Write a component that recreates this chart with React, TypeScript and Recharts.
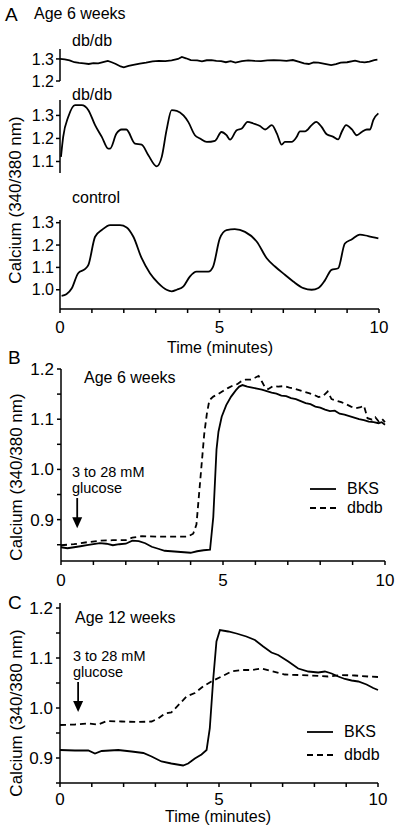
import React from 'react';
import { LineChart, Line, XAxis, YAxis, ReferenceLine } from 'recharts';

const FONT = '"Liberation Sans", Arial, Helvetica, sans-serif';

// ---------- Panel A (age 6 weeks, single islets) ----------
const a1Time = [0, 0.15, 0.3, 0.45, 0.6, 0.75, 0.9, 1.05, 1.2, 1.35, 1.5, 1.62, 1.75, 1.9, 2.0, 2.15, 2.3, 2.5, 2.7, 2.9, 3.1, 3.3, 3.5, 3.7, 3.82, 3.95, 4.1, 4.3, 4.45, 4.6, 4.75, 4.9, 5.05, 5.2, 5.35, 5.5, 5.7, 5.9, 6.1, 6.3, 6.5, 6.7, 6.9, 7.1, 7.3, 7.5, 7.65, 7.8, 7.95, 8.1, 8.3, 8.5, 8.65, 8.8, 9.0, 9.25, 9.4, 9.55, 9.7, 9.85, 9.95];
const a1Ratio = [1.3, 1.298, 1.293, 1.285, 1.282, 1.28, 1.277, 1.281, 1.28, 1.286, 1.291, 1.285, 1.277, 1.266, 1.262, 1.268, 1.273, 1.279, 1.283, 1.289, 1.291, 1.29, 1.293, 1.3, 1.309, 1.303, 1.295, 1.293, 1.289, 1.294, 1.295, 1.291, 1.29, 1.285, 1.29, 1.283, 1.29, 1.293, 1.291, 1.29, 1.293, 1.295, 1.293, 1.291, 1.295, 1.287, 1.28, 1.277, 1.284, 1.283, 1.278, 1.272, 1.276, 1.283, 1.285, 1.292, 1.287, 1.284, 1.288, 1.295, 1.297];

const a2Time = [0.03, 0.1, 0.26, 0.47, 0.68, 0.89, 1.1, 1.31, 1.51, 1.57, 1.77, 1.93, 2.08, 2.35, 2.56, 2.77, 3.03, 3.19, 3.34, 3.5, 3.66, 3.87, 4.02, 4.23, 4.39, 4.6, 4.86, 5.06, 5.22, 5.33, 5.54, 5.7, 5.88, 6.06, 6.27, 6.43, 6.64, 6.8, 6.95, 7.05, 7.26, 7.42, 7.52, 7.68, 7.89, 8.03, 8.2, 8.36, 8.57, 8.72, 8.83, 8.97, 9.15, 9.3, 9.46, 9.62, 9.72, 9.82, 9.98];
const a2Ratio = [1.12, 1.207, 1.294, 1.345, 1.345, 1.323, 1.258, 1.207, 1.156, 1.156, 1.221, 1.239, 1.239, 1.178, 1.173, 1.127, 1.079, 1.12, 1.236, 1.323, 1.32, 1.3, 1.272, 1.214, 1.2, 1.185, 1.19, 1.228, 1.214, 1.195, 1.236, 1.243, 1.272, 1.265, 1.254, 1.239, 1.258, 1.221, 1.173, 1.185, 1.185, 1.207, 1.231, 1.231, 1.258, 1.272, 1.25, 1.218, 1.207, 1.196, 1.228, 1.258, 1.239, 1.214, 1.228, 1.239, 1.239, 1.28, 1.309];

const a3Time = [0.05, 0.2, 0.37, 0.57, 0.78, 0.89, 1.1, 1.31, 1.57, 1.88, 2.09, 2.3, 2.56, 2.82, 3.08, 3.34, 3.5, 3.66, 3.87, 4.07, 4.28, 4.65, 4.8, 5.01, 5.22, 5.48, 5.8, 6.17, 6.48, 6.74, 7.05, 7.31, 7.63, 7.89, 8.1, 8.3, 8.51, 8.72, 8.93, 9.14, 9.4, 9.66, 9.98];
const a3Ratio = [0.973, 0.98, 1.007, 1.074, 1.092, 1.111, 1.237, 1.267, 1.289, 1.289, 1.279, 1.237, 1.141, 1.074, 1.03, 1.0, 0.993, 1.0, 1.015, 1.059, 1.081, 1.081, 1.104, 1.23, 1.267, 1.271, 1.259, 1.215, 1.141, 1.104, 1.067, 1.037, 1.007, 1.0, 1.008, 1.041, 1.089, 1.096, 1.207, 1.225, 1.247, 1.24, 1.23];

// ---------- Panel B (age 6 weeks, 3 -> 28 mM glucose) ----------
const bBksTime = [0, 0.2, 0.4, 0.6, 0.8, 1.0, 1.2, 1.4, 1.6, 1.8, 2.0, 2.2, 2.4, 2.6, 2.8, 3.0, 3.2, 3.4, 3.6, 3.8, 4.0, 4.2, 4.4, 4.6, 4.7, 4.8, 4.86, 4.96, 5.1, 5.25, 5.4, 5.5, 5.6, 5.75, 5.9, 6.05, 6.2, 6.35, 6.5, 6.65, 6.8, 6.95, 7.1, 7.25, 7.4, 7.55, 7.7, 7.85, 8.0, 8.15, 8.3, 8.45, 8.6, 8.75, 8.9, 9.05, 9.2, 9.35, 9.5, 9.65, 9.8, 9.9, 10.0];
const bBksRatio = [0.845, 0.843, 0.845, 0.847, 0.849, 0.851, 0.853, 0.852, 0.849, 0.851, 0.852, 0.858, 0.857, 0.853, 0.846, 0.842, 0.838, 0.837, 0.836, 0.835, 0.834, 0.837, 0.839, 0.84, 0.905, 1.04, 1.075, 1.105, 1.128, 1.145, 1.158, 1.165, 1.168, 1.165, 1.163, 1.161, 1.159, 1.156, 1.153, 1.151, 1.147, 1.146, 1.142, 1.14, 1.136, 1.132, 1.13, 1.125, 1.123, 1.119, 1.116, 1.117, 1.111, 1.109, 1.106, 1.103, 1.1, 1.098, 1.095, 1.094, 1.092, 1.094, 1.089];
const bDbdbTime = [0, 0.4, 0.8, 1.2, 1.6, 2.0, 2.2, 2.5, 3.0, 3.5, 3.9, 4.08, 4.18, 4.26, 4.34, 4.42, 4.5, 4.58, 4.7, 4.85, 5.0, 5.15, 5.3, 5.45, 5.55, 5.7, 5.85, 6.0, 6.1, 6.2, 6.3, 6.4, 6.55, 6.7, 6.9, 7.05, 7.2, 7.35, 7.5, 7.65, 7.8, 7.95, 8.1, 8.23, 8.35, 8.5, 8.65, 8.8, 8.95, 9.1, 9.25, 9.35, 9.46, 9.6, 9.7, 9.8, 9.9, 10.0];
const bDbdbRatio = [0.849, 0.851, 0.855, 0.858, 0.859, 0.859, 0.864, 0.867, 0.866, 0.866, 0.866, 0.872, 0.89, 0.95, 1.01, 1.07, 1.11, 1.138, 1.145, 1.15, 1.156, 1.162, 1.167, 1.17, 1.175, 1.179, 1.179, 1.183, 1.186, 1.175, 1.163, 1.16, 1.166, 1.165, 1.166, 1.163, 1.161, 1.158, 1.155, 1.152, 1.149, 1.144, 1.147, 1.155, 1.14, 1.137, 1.134, 1.13, 1.125, 1.122, 1.124, 1.127, 1.102, 1.099, 1.104, 1.096, 1.101, 1.094];

// ---------- Panel C (age 12 weeks, 3 -> 28 mM glucose) ----------
const cBksTime = [0, 0.47, 0.89, 1.1, 1.31, 1.83, 2.25, 2.62, 2.88, 3.19, 3.5, 3.87, 4.03, 4.24, 4.45, 4.61, 4.71, 4.82, 4.92, 5.03, 5.29, 5.55, 5.86, 6.13, 6.39, 6.65, 6.86, 7.18, 7.49, 7.81, 8.12, 8.33, 8.54, 8.75, 8.96, 9.17, 9.38, 9.64, 9.85, 10.0];
const cBksRatio = [0.916, 0.915, 0.915, 0.909, 0.914, 0.916, 0.913, 0.91, 0.903, 0.893, 0.889, 0.885, 0.889, 0.899, 0.907, 0.916, 0.959, 1.059, 1.133, 1.156, 1.153, 1.149, 1.143, 1.136, 1.123, 1.111, 1.106, 1.093, 1.079, 1.073, 1.071, 1.073, 1.069, 1.063, 1.058, 1.055, 1.053, 1.047, 1.04, 1.036];
const cDbdbTime = [0, 0.47, 0.89, 1.2, 1.47, 1.94, 2.46, 2.88, 3.09, 3.3, 3.5, 3.77, 3.98, 4.24, 4.5, 4.76, 5.08, 5.39, 5.71, 6.03, 6.34, 6.65, 7.07, 7.49, 7.91, 8.43, 8.85, 9.27, 9.69, 10.0];
const cDbdbRatio = [0.966, 0.967, 0.969, 0.967, 0.974, 0.973, 0.972, 0.973, 0.979, 0.989, 0.991, 1.009, 1.023, 1.03, 1.043, 1.053, 1.063, 1.073, 1.076, 1.076, 1.079, 1.074, 1.067, 1.066, 1.065, 1.063, 1.066, 1.065, 1.063, 1.062];

// ---------- ticks ----------
const minuteTicks = [0, 1, 2, 3, 4, 5, 6, 7, 8, 9, 10];
const a1Ticks = [1.2, 1.3];
const a2Ticks = [1.1, 1.2, 1.3];
const a3Ticks = [1.0, 1.1, 1.2, 1.3];
const bTicks = [0.85, 0.9, 0.95, 1.0, 1.05, 1.1, 1.15, 1.2];
const cTicks = [0.85, 0.9, 0.95, 1.0, 1.05, 1.1, 1.15, 1.2];

const zip = (t: number[], v: number[]) => t.map((x, i) => ({ t: x, v: v[i] }));

const a1Data = zip(a1Time, a1Ratio);
const a2Data = zip(a2Time, a2Ratio);
const a3Data = zip(a3Time, a3Ratio);
const bBksData = zip(bBksTime, bBksRatio);
const bDbdbData = zip(bDbdbTime, bDbdbRatio);
const cBksData = zip(cBksTime, cBksRatio);
const cDbdbData = zip(cDbdbTime, cDbdbRatio);

const majorY = (v: number) => (Math.abs(v * 10 - Math.round(v * 10)) < 1e-6 ? v.toFixed(1) : '');
const majorX = (v: number) => (v % 5 === 0 ? String(v) : '');

const axisStyle = { stroke: '#000', strokeWidth: 1.5 };

const arrowShape = (p: any) => {
  const { x1, y1, x2, y2 } = p;
  return (
    <g>
      <line x1={x1} y1={y1} x2={x2} y2={y2 - 9} stroke="#000" strokeWidth={1.8} />
      <polygon points={`${x2 - 5},${y2 - 11} ${x2 + 5},${y2 - 11} ${x2},${y2}`} fill="#000" />
    </g>
  );
};

const Txt = ({ x, y, size = 16, center = false, children }: any) => (
  <div
    style={{
      position: 'absolute',
      left: x,
      top: y,
      transform: center ? 'translate(-50%, -50%)' : 'translate(0, -50%)',
      fontSize: size,
      fontFamily: FONT,
      lineHeight: 1,
      whiteSpace: 'nowrap',
      color: '#000',
    }}
  >
    {children}
  </div>
);

const VTxt = ({ x, y, size = 17, children }: any) => (
  <div
    style={{
      position: 'absolute',
      left: x,
      top: y,
      transform: 'translate(-50%, -50%) rotate(-90deg)',
      fontSize: size,
      fontFamily: FONT,
      lineHeight: 1,
      whiteSpace: 'nowrap',
      color: '#000',
    }}
  >
    {children}
  </div>
);

const LegendRow = ({ x, y, dashed, label }: any) => (
  <>
    <svg style={{ position: 'absolute', left: x, top: y - 3 }} width={26} height={6}>
      <line x1={0} y1={3} x2={26} y2={3} stroke="#000" strokeWidth={1.8} strokeDasharray={dashed ? '6 4' : undefined} />
    </svg>
    <Txt x={x + 37} y={y} size={16}>{label}</Txt>
  </>
);

const Abs = ({ top, children }: any) => (
  <div style={{ position: 'absolute', left: 0, top }}>{children}</div>
);

export default function App() {
  const yTick = (size: number) => ({ fill: '#000', fontSize: size, fontFamily: FONT });
  return (
    <div style={{ position: 'absolute', left: 0, top: 0, width: 400, height: 829, background: '#fff', overflow: 'hidden' }}>
      {/* Panel A top: db/db */}
      <Abs top={40}>
        <LineChart width={400} height={50} margin={{ top: 9, right: 21, bottom: 9, left: 0 }}>
          <XAxis type="number" dataKey="t" domain={[0, 10]} hide />
          <YAxis type="number" width={60} domain={[1.2, 1.345]} allowDataOverflow ticks={a1Ticks} interval={0}
            tickFormatter={majorY} axisLine={axisStyle} tickLine={axisStyle} tickSize={4} tickMargin={2} tick={yTick(16)} />
          <Line data={a1Data} dataKey="v" type="linear" stroke="#000" strokeWidth={1.8} dot={false} isAnimationActive={false} />
        </LineChart>
      </Abs>
      {/* Panel A middle: db/db */}
      <Abs top={92}>
        <LineChart width={400} height={90} margin={{ top: 8, right: 21, bottom: 9, left: 0 }}>
          <XAxis type="number" dataKey="t" domain={[0, 10]} hide />
          <YAxis type="number" width={60} domain={[1.05, 1.367]} allowDataOverflow ticks={a2Ticks} interval={0}
            tickFormatter={majorY} axisLine={axisStyle} tickLine={axisStyle} tickSize={4} tickMargin={2} tick={yTick(16)} />
          <Line data={a2Data} dataKey="v" type="monotone" stroke="#000" strokeWidth={1.8} dot={false} isAnimationActive={false} />
        </LineChart>
      </Abs>
      {/* Panel A bottom: control */}
      <Abs top={212}>
        <LineChart width={400} height={137} margin={{ top: 8, right: 21, bottom: 0, left: 0 }}>
          <XAxis type="number" dataKey="t" domain={[0, 10]} ticks={minuteTicks} interval={0} tickFormatter={majorX}
            axisLine={axisStyle} tickLine={axisStyle} tickSize={4} tickMargin={8} tick={yTick(17)} height={40} />
          <YAxis type="number" width={60} domain={[0.914, 1.312]} allowDataOverflow ticks={a3Ticks} interval={0}
            tickFormatter={majorY} axisLine={axisStyle} tickLine={axisStyle} tickSize={4} tickMargin={2} tick={yTick(16)} />
          <Line data={a3Data} dataKey="v" type="monotone" stroke="#000" strokeWidth={1.8} dot={false} isAnimationActive={false} />
        </LineChart>
      </Abs>
      {/* Panel B */}
      <Abs top={360}>
        <LineChart width={400} height={231} margin={{ top: 9, right: 15, bottom: 0, left: 0 }}>
          <XAxis type="number" dataKey="t" domain={[0, 10]} ticks={minuteTicks} interval={0} tickFormatter={majorX}
            axisLine={axisStyle} tickLine={axisStyle} tickSize={4} tickMargin={9} tick={yTick(17)} height={30} />
          <YAxis type="number" width={61} domain={[0.8176, 1.2]} allowDataOverflow ticks={bTicks} interval={0}
            tickFormatter={majorY} axisLine={axisStyle} tickLine={axisStyle} tickSize={4} tickMargin={3} tick={yTick(17)} />
          <ReferenceLine segment={[{ x: 0.5, y: 0.943 }, { x: 0.5, y: 0.883 }]} shape={arrowShape} ifOverflow="visible" />
          <Line data={bDbdbData} dataKey="v" type="linear" stroke="#000" strokeWidth={1.8} strokeDasharray="6 4" dot={false} isAnimationActive={false} />
          <Line data={bBksData} dataKey="v" type="linear" stroke="#000" strokeWidth={1.8} dot={false} isAnimationActive={false} />
        </LineChart>
      </Abs>
      {/* Panel C */}
      <Abs top={595}>
        <LineChart width={400} height={218} margin={{ top: 8, right: 22, bottom: 0, left: 0 }}>
          <XAxis type="number" dataKey="t" domain={[0, 10]} ticks={minuteTicks} interval={0} tickFormatter={majorX}
            axisLine={axisStyle} tickLine={axisStyle} tickSize={4} tickMargin={6} tick={yTick(17)} height={30} />
          <YAxis type="number" width={60} domain={[0.85, 1.21]} allowDataOverflow ticks={cTicks} interval={0}
            tickFormatter={majorY} axisLine={axisStyle} tickLine={axisStyle} tickSize={4} tickMargin={3} tick={yTick(17)} />
          <ReferenceLine segment={[{ x: 0.57, y: 1.052 }, { x: 0.57, y: 0.992 }]} shape={arrowShape} ifOverflow="visible" />
          <Line data={cDbdbData} dataKey="v" type="linear" stroke="#000" strokeWidth={1.8} strokeDasharray="6 4" dot={false} isAnimationActive={false} />
          <Line data={cBksData} dataKey="v" type="linear" stroke="#000" strokeWidth={1.8} dot={false} isAnimationActive={false} />
        </LineChart>
      </Abs>

      {/* Text: panel A */}
      <Txt x={5} y={14} size={19}>A</Txt>
      <Txt x={34} y={14} size={16}>Age 6 weeks</Txt>
      <Txt x={72} y={41} size={16}>db/db</Txt>
      <Txt x={72} y={95} size={16}>db/db</Txt>
      <Txt x={72} y={198} size={16}>control</Txt>
      <Txt x={220} y={348} size={16} center>Time (minutes)</Txt>
      <VTxt x={15} y={200}>Calcium (340/380 nm)</VTxt>

      {/* Panel B */}
      <Txt x={8} y={357} size={19}>B</Txt>
      <Txt x={84} y={378} size={16}>Age 6 weeks</Txt>
      <Txt x={72} y={472} size={14.5}>3 to 28 mM</Txt>
      <Txt x={72} y={488} size={14.5}>glucose</Txt>
      <LegendRow x={310} y={489} label="BKS" />
      <LegendRow x={310} y={508} dashed label="dbdb" />
      <VTxt x={16} y={477}>Calcium (340/380 nm)</VTxt>

      {/* Panel C */}
      <Txt x={8} y={602} size={19}>C</Txt>
      <Txt x={75} y={618} size={16}>Age 12 weeks</Txt>
      <Txt x={73} y={656} size={14.5}>3 to 28 mM</Txt>
      <Txt x={73} y={672} size={14.5}>glucose</Txt>
      <LegendRow x={307} y={732} label="BKS" />
      <LegendRow x={307} y={755} dashed label="dbdb" />
      <VTxt x={16} y={713}>Calcium (340/380 nm)</VTxt>
      <Txt x={218} y={817} size={16} center>Time (minutes)</Txt>
    </div>
  );
}
